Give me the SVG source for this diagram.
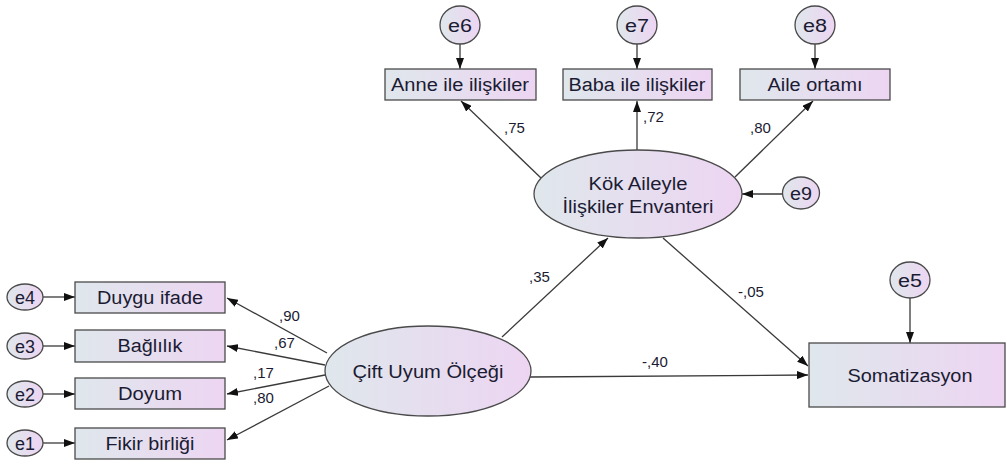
<svg xmlns="http://www.w3.org/2000/svg" width="1007" height="464" viewBox="0 0 1007 464">
  <defs>
    <linearGradient id="fillGrad" x1="0" y1="0" x2="1" y2="0">
      <stop offset="0" stop-color="#dfe7ec"/>
      <stop offset="1" stop-color="#edd5f2"/>
    </linearGradient>
    <marker id="arrow" markerUnits="userSpaceOnUse" markerWidth="11" markerHeight="8" refX="11" refY="4" orient="auto">
      <path d="M0,0 L11,4 L0,8 z" fill="#111"/>
    </marker>
    <style>
      .box { fill: url(#fillGrad); stroke: #4a4a4a; stroke-width: 1.3; }
      .lat { fill: url(#fillGrad); stroke: #4a4a4a; stroke-width: 1.3; }
      .err { fill: url(#fillGrad); stroke: #4a4a4a; stroke-width: 1.3; }
      .lbl { font-family: "Liberation Sans", Arial, sans-serif; font-size: 18px; fill: #1b1b33; text-anchor: middle; }
      .elbl { font-family: "Liberation Sans", Arial, sans-serif; font-size: 18px; fill: #1b1b33; text-anchor: middle; }
      .coef { font-family: "Liberation Sans", Arial, sans-serif; font-size: 15px; fill: #1b1b33; }
      .edge { fill: none; stroke: #3a3a3a; stroke-width: 1.3; marker-end: url(#arrow); }
    </style>
  </defs>

  <!-- connectors -->
  <g id="connectors">
    <line class="edge" x1="460" y1="44" x2="460" y2="69"/>
    <line class="edge" x1="637" y1="44" x2="637" y2="69"/>
    <line class="edge" x1="815" y1="44" x2="815" y2="69"/>
    <line class="edge" x1="541" y1="178" x2="461" y2="101"/>
    <line class="edge" x1="637" y1="150" x2="637" y2="101"/>
    <line class="edge" x1="735" y1="177" x2="813" y2="101"/>
    <line class="edge" x1="783" y1="194" x2="742" y2="194"/>
    <line class="edge" x1="502" y1="337" x2="608" y2="238"/>
    <line class="edge" x1="663" y1="238" x2="808" y2="366"/>
    <line class="edge" x1="530" y1="377" x2="808" y2="375"/>
    <line class="edge" x1="910" y1="298" x2="910" y2="343"/>
    <line class="edge" x1="327" y1="353" x2="227" y2="298"/>
    <line class="edge" x1="325" y1="365" x2="227" y2="346"/>
    <line class="edge" x1="325" y1="375" x2="227" y2="394"/>
    <line class="edge" x1="329" y1="386" x2="227" y2="440"/>
    <line class="edge" x1="43" y1="297" x2="75" y2="297"/>
    <line class="edge" x1="43" y1="346" x2="75" y2="346"/>
    <line class="edge" x1="43" y1="394" x2="75" y2="394"/>
    <line class="edge" x1="43" y1="443" x2="75" y2="443"/>
  </g>

  <!-- path coefficients -->
  <g id="coefficients">
    <text class="coef" x="504" y="133">,75</text>
    <text class="coef" x="643" y="122">,72</text>
    <text class="coef" x="750" y="133">,80</text>
    <text class="coef" x="529" y="282">,35</text>
    <text class="coef" x="738" y="297">-,05</text>
    <text class="coef" x="642" y="367">-,40</text>
    <text class="coef" x="279" y="321">,90</text>
    <text class="coef" x="274" y="348">,67</text>
    <text class="coef" x="253" y="378">,17</text>
    <text class="coef" x="253" y="403">,80</text>
  </g>

  <!-- error terms -->
  <g id="e6"><ellipse class="err" cx="460" cy="25" rx="20" ry="19"/><text class="elbl" x="460" y="32" textLength="24" lengthAdjust="spacingAndGlyphs">e6</text></g>
  <g id="e7"><ellipse class="err" cx="637" cy="25" rx="20" ry="19"/><text class="elbl" x="637" y="32" textLength="24" lengthAdjust="spacingAndGlyphs">e7</text></g>
  <g id="e8"><ellipse class="err" cx="815" cy="25" rx="20" ry="19"/><text class="elbl" x="815" y="32" textLength="24" lengthAdjust="spacingAndGlyphs">e8</text></g>
  <g id="e9"><ellipse class="err" cx="801" cy="193" rx="18.5" ry="16"/><text class="elbl" x="801" y="200" textLength="22" lengthAdjust="spacingAndGlyphs">e9</text></g>
  <g id="e5"><ellipse class="err" cx="910" cy="280" rx="20" ry="18"/><text class="elbl" x="910" y="287" textLength="24" lengthAdjust="spacingAndGlyphs">e5</text></g>
  <g id="e4"><ellipse class="err" cx="25" cy="297" rx="18" ry="13"/><text class="elbl" x="25" y="304" textLength="20" lengthAdjust="spacingAndGlyphs">e4</text></g>
  <g id="e3"><ellipse class="err" cx="25" cy="346" rx="18" ry="13"/><text class="elbl" x="25" y="353" textLength="20" lengthAdjust="spacingAndGlyphs">e3</text></g>
  <g id="e2"><ellipse class="err" cx="25" cy="394" rx="18" ry="13"/><text class="elbl" x="25" y="401" textLength="20" lengthAdjust="spacingAndGlyphs">e2</text></g>
  <g id="e1"><ellipse class="err" cx="25" cy="443" rx="18" ry="13"/><text class="elbl" x="25" y="450" textLength="20" lengthAdjust="spacingAndGlyphs">e1</text></g>

  <!-- observed variables -->
  <g id="anne"><rect class="box" x="385" y="69" width="151" height="31"/><text class="lbl" x="460" y="91" textLength="138" lengthAdjust="spacingAndGlyphs">Anne ile ilişkiler</text></g>
  <g id="baba"><rect class="box" x="563" y="69" width="149" height="31"/><text class="lbl" x="637" y="91" textLength="137" lengthAdjust="spacingAndGlyphs">Baba ile ilişkiler</text></g>
  <g id="aile"><rect class="box" x="740" y="69" width="150" height="31"/><text class="lbl" x="815" y="91" textLength="95" lengthAdjust="spacingAndGlyphs">Aile ortamı</text></g>
  <g id="duygu"><rect class="box" x="75" y="282" width="150" height="31"/><text class="lbl" x="150" y="304" textLength="106" lengthAdjust="spacingAndGlyphs">Duygu ifade</text></g>
  <g id="baglilik"><rect class="box" x="75" y="330" width="150" height="32"/><text class="lbl" x="150" y="352" textLength="65" lengthAdjust="spacingAndGlyphs">Bağlılık</text></g>
  <g id="doyum"><rect class="box" x="75" y="378" width="150" height="31"/><text class="lbl" x="150" y="400" textLength="64" lengthAdjust="spacingAndGlyphs">Doyum</text></g>
  <g id="fikir"><rect class="box" x="75" y="428" width="150" height="31"/><text class="lbl" x="150" y="450" textLength="89" lengthAdjust="spacingAndGlyphs">Fikir birliği</text></g>
  <g id="somatizasyon"><rect class="box" x="809" y="343" width="196" height="64"/><text class="lbl" x="910" y="382" textLength="125" lengthAdjust="spacingAndGlyphs">Somatizasyon</text></g>

  <!-- latent variables -->
  <g id="kok"><ellipse class="lat" cx="638" cy="194" rx="104" ry="44"/>
    <text class="lbl" x="638" y="190" textLength="99" lengthAdjust="spacingAndGlyphs">Kök Aileyle</text>
    <text class="lbl" x="638" y="213" textLength="151" lengthAdjust="spacingAndGlyphs">İlişkiler Envanteri</text></g>
  <g id="cift"><ellipse class="lat" cx="428" cy="371" rx="103" ry="45"/>
    <text class="lbl" x="428" y="378" textLength="151" lengthAdjust="spacingAndGlyphs">Çift Uyum Ölçeği</text></g>
</svg>
